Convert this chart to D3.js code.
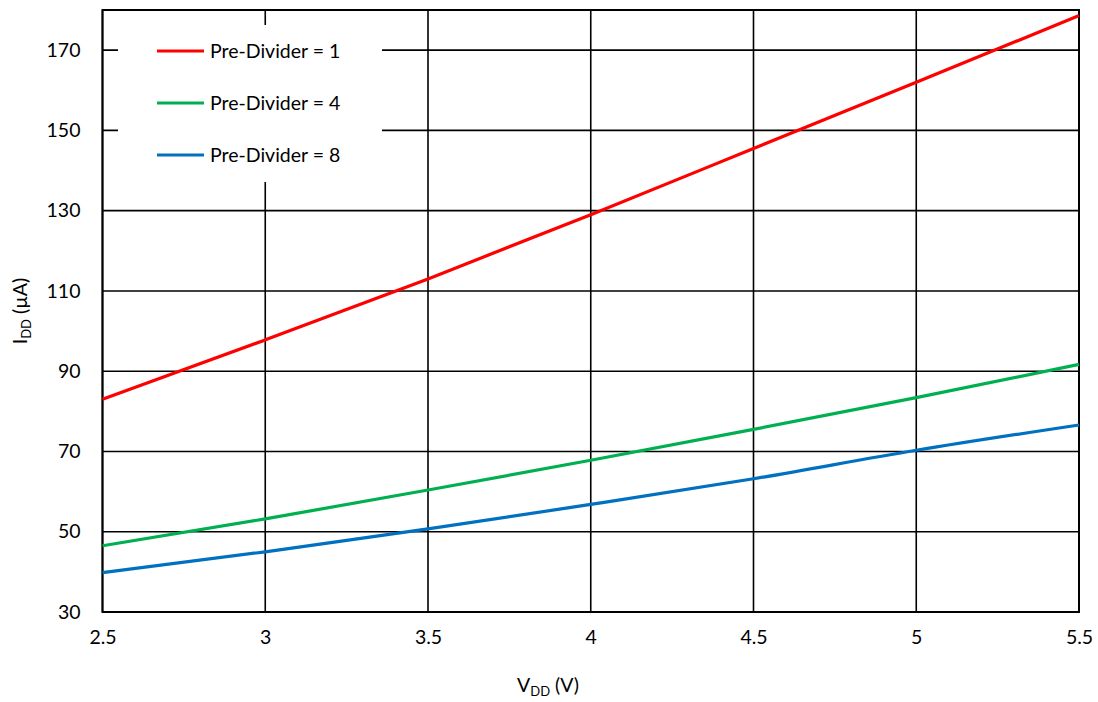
<!DOCTYPE html>
<html>
<head>
<meta charset="utf-8">
<script src="https://cdn.jsdelivr.net/npm/d3@7"></script>
<style>
  body { margin: 0; background: #fff; }
  svg { display: block; }
  text { font-family: Lato, "Open Sans", sans-serif; fill: #000; }
</style>
</head>
<body>
<svg id="chart" width="1098" height="702"></svg>
<script>
const vdd = [2.5, 3, 3.5, 4, 4.5, 5, 5.5];
const preDiv1 = [83, 97.8, 113, 129, 145.5, 162, 178.6];
const preDiv4 = [46.5, 53.2, 60.4, 67.8, 75.5, 83.4, 91.7];
const preDiv8 = [39.8, 45, 50.7, 56.8, 63.2, 70.3, 76.6];
const seriesNames = ["Pre-Divider = 1", "Pre-Divider = 4", "Pre-Divider = 8"];
const seriesColors = ["#ff0000", "#00b050", "#0070c0"];
const xTicks = [2.5, 3, 3.5, 4, 4.5, 5, 5.5];
const yTicks = [30, 50, 70, 90, 110, 130, 150, 170];

const series = [preDiv1, preDiv4, preDiv8].map((vals, i) => ({
  name: seriesNames[i], color: seriesColors[i],
  pts: vals.map((v, j) => [vdd[j], v])
}));

const svg = d3.select("#chart");
const L = 102.5, R = 1079, T = 10, B = 612;
const x = d3.scaleLinear().domain([2.5, 5.5]).range([L, R]);
const y = d3.scaleLinear().domain([30, 180]).range([B, T]);

// grid
const grid = svg.append("g").attr("stroke", "#000").attr("stroke-width", 1.6);
xTicks.forEach(t => grid.append("line").attr("x1", x(t)).attr("x2", x(t)).attr("y1", T).attr("y2", B));
yTicks.forEach(t => grid.append("line").attr("x1", L).attr("x2", R).attr("y1", y(t)).attr("y2", y(t)));

// legend background (covers grid)
svg.append("rect").attr("x", 118).attr("y", 25).attr("width", 264).attr("height", 157).attr("fill", "#fff");

// frame
svg.append("rect").attr("x", L).attr("y", T).attr("width", R - L).attr("height", B - T)
  .attr("fill", "none").attr("stroke", "#000").attr("stroke-width", 2);

const fs = 19.5;
const yAxis = svg.append("g").attr("transform", `translate(${L},0)`)
  .call(d3.axisLeft(y).tickValues(yTicks).tickSize(0).tickPadding(22).tickFormat(d3.format("d")));
yAxis.select(".domain").remove();
yAxis.selectAll("text").style("font-family", "Lato, sans-serif").style("font-size", fs + "px").attr("fill", "#000");

const xAxis = svg.append("g").attr("transform", `translate(0,${B})`)
  .call(d3.axisBottom(x).tickValues(xTicks).tickSize(0).tickPadding(18).tickFormat(d => String(d)));
xAxis.select(".domain").remove();
xAxis.selectAll("text").style("font-family", "Lato, sans-serif").style("font-size", fs + "px").attr("fill", "#000");

// lines
const line = d3.line().x(d => x(d[0])).y(d => y(d[1])).curve(d3.curveMonotoneX);
series.forEach(s => {
  svg.append("path").datum(s.pts).attr("d", line)
    .attr("fill", "none").attr("stroke", s.color).attr("stroke-width", 3.2);
});

// legend
series.forEach((s, i) => {
  const ly = 51 + i * 52;
  svg.append("line").attr("x1", 157).attr("x2", 204).attr("y1", ly).attr("y2", ly)
    .attr("stroke", s.color).attr("stroke-width", 3.2);
  svg.append("text").attr("x", 210).attr("y", ly + 7).style("font-size", fs + "px").text(s.name);
});

// axis titles
const xt = svg.append("text").attr("x", 548).attr("y", 692).attr("text-anchor", "middle").style("font-size", fs + "px");
xt.append("tspan").text("V");
xt.append("tspan").attr("dy", 4).style("font-size", "13px").text("DD");
xt.append("tspan").attr("dy", -4).text(" (V)");

const yt = svg.append("text").attr("transform", "translate(27,311) rotate(-90)").attr("text-anchor", "middle").style("font-size", fs + "px");
yt.append("tspan").text("I");
yt.append("tspan").attr("dy", 4).style("font-size", "13px").text("DD");
yt.append("tspan").attr("dy", -4).text(" (µA)");
</script>
</body>
</html>
